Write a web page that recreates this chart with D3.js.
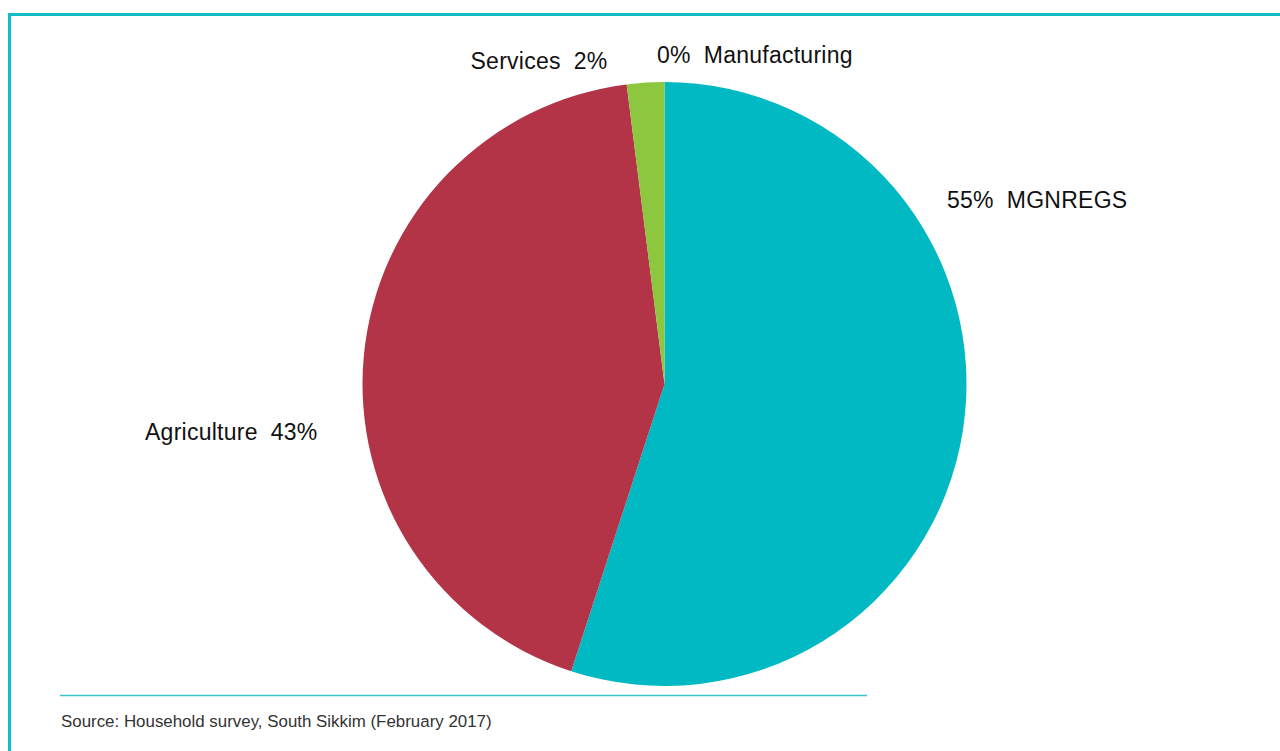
<!DOCTYPE html>
<html>
<head>
<meta charset="utf-8">
<script src="https://cdn.jsdelivr.net/npm/d3@7/dist/d3.min.js"></script>
<style>
  html, body { margin: 0; padding: 0; background: #fff; }
  svg { display: block; }
  text { font-family: "Liberation Sans", Arial, Helvetica, sans-serif; }
</style>
</head>
<body>
<svg id="chart" width="1280" height="751"></svg>
<script>
// Income sources of surveyed households (share, %)
const categories = ["MGNREGS", "Agriculture", "Services", "Manufacturing"];
const shares = [55, 43, 2, 0];
const colors = ["#00B9C3", "#B33446", "#8DC63F", "#F7941D"];
const sourceNote = "Source: Household survey, South Sikkim (February 2017)";

// Label placement: start x, baseline y, and whether the percentage comes first
const labelLayout = [
  { x: 947, y: 208, pctFirst: true },
  { x: 145, y: 440, pctFirst: false },
  { x: 470.5, y: 69, pctFirst: false },
  { x: 657, y: 63, pctFirst: true }
];

const W = 1280, H = 751;
const cx = 664.5, cy = 384, R = 302;

const svg = d3.select("#chart");

// Frame running off the right and bottom edges
svg.append("rect")
  .attr("x", 9.5).attr("y", 14.5)
  .attr("width", W + 40).attr("height", H + 40)
  .attr("fill", "none")
  .attr("stroke", "#12BEC6")
  .attr("stroke-width", 3);

const data = categories.map((c, i) => ({ name: c, value: shares[i], color: colors[i] }));

const pie = d3.pie().value(d => d.value).sort(null);
const arc = d3.arc().innerRadius(0).outerRadius(R);

const g = svg.append("g").attr("transform", `translate(${cx},${cy})`);
g.selectAll("path.slice")
  .data(pie(data).filter(d => d.data.value > 0))
  .join("path")
  .attr("class", "slice")
  .attr("d", arc)
  .attr("fill", d => d.data.color);

// Labels
const labels = svg.append("g");
data.forEach((d, i) => {
  const L = labelLayout[i];
  const pct = d.value + "%";
  const parts = L.pctFirst ? [pct, d.name] : [d.name, pct];
  const t = labels.append("text")
    .attr("x", L.x).attr("y", L.y)
    .attr("font-size", 23)
    .attr("letter-spacing", 0.25)
    .attr("fill", "#111");
  t.append("tspan").text(parts[0]);
  t.append("tspan").attr("dx", 13).text(parts[1]);
});

// Footer rule and source note
svg.append("line")
  .attr("x1", 60).attr("x2", 867)
  .attr("y1", 695.5).attr("y2", 695.5)
  .attr("stroke", "#3CC3CA")
  .attr("stroke-width", 1.3);

svg.append("text")
  .attr("x", 61).attr("y", 727)
  .attr("font-size", 16.9)
  .attr("fill", "#333")
  .text(sourceNote);
</script>
</body>
</html>
